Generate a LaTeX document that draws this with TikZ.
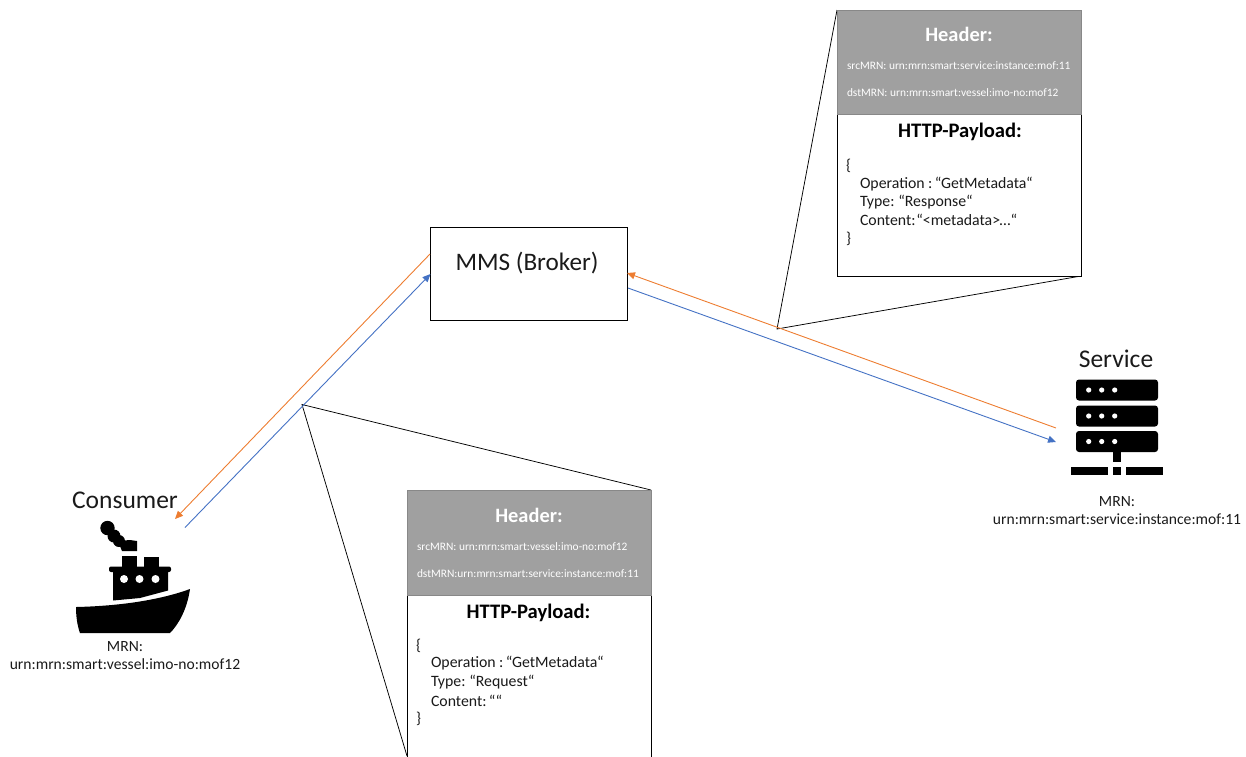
\documentclass[tikz,border=0pt]{standalone}
\usepackage{fontspec}
\setmainfont{Carlito}
\usetikzlibrary{arrows.meta}
\definecolor{hdr}{HTML}{A0A0A0}
\definecolor{arrO}{HTML}{ED7D31}
\definecolor{arrB}{HTML}{4472C4}
\definecolor{txtc}{HTML}{1A1A1A}
\newcommand{\qk}{\kern-2.4pt}
\tikzset{
  every node/.style={inner sep=0pt,outer sep=0pt,text=txtc},
  box/.style={draw=black,line width=0.8pt,fill=white},
  hdrbox/.style={draw=hdr!85!black,line width=0.8pt,fill=hdr},
  callout/.style={draw=black,line width=0.75pt},
  flowO/.style={draw=arrO,line width=0.9pt,-{Triangle[length=8pt,width=7pt]}},
  flowB/.style={draw=arrB,line width=0.9pt,-{Triangle[length=8pt,width=7pt]}},
  hdrtitle/.style={text=white,font=\fontsize{20.4}{22}\selectfont\bfseries,anchor=center},
  hdrline/.style={text=white,font=\fontsize{11.4}{13}\selectfont,anchor=west},
  paytitle/.style={text=black,font=\fontsize{20.6}{22}\selectfont\bfseries,anchor=center},
  payline/.style={text=txtc,font=\fontsize{15.8}{18}\selectfont,anchor=base west},
  label/.style={font=\fontsize{25.5}{28}\selectfont,anchor=center},
  mrn/.style={font=\fontsize{15.6}{18}\selectfont,anchor=center,align=center},
}
\begin{document}
\begin{tikzpicture}[x=1pt,y=-1pt]
\useasboundingbox (0,0) rectangle (1246,756);
% callout wedges
\coordinate (tipR) at (777,329);
\coordinate (tipL) at (302,404.5);
\coordinate (tipRa) at (837,10);
\coordinate (tipRb) at (1081,276);
\coordinate (tipLa) at (651,490);
\coordinate (tipLb) at (407,756);
\draw[callout] (tipRa) -- (tipR) -- (tipRb);
\draw[callout] (tipLa) -- (tipL) -- (tipLb);
% Broker
\node[box,minimum width=197pt,minimum height=93pt] (mms) at (528.5,273.5) {};
\node[font=\fontsize{25.2}{28}\selectfont] (mmst) at (527,263) {MMS (Broker)};
% top message
\node[box,minimum width=244pt,minimum height=163pt,anchor=north west] (pay1) at (837.5,113.5) {};
\node[hdrbox,minimum width=244pt,minimum height=104pt,anchor=north west] (hdr1) at (837.5,10) {};
\node[hdrtitle] (h1) at (959,34) {Header:};
\node[hdrline] (h1a) at (847,66) {srcMRN: urn:mrn:smart:service:instance:mof:11};
\node[hdrline] (h1b) at (847,93) {dstMRN: urn:mrn:smart:vessel:imo-no:mof12};
\node[paytitle] (p1) at (960,131.5) {HTTP-Payload:};
\node[payline] (p1a) at (846,170) {\{};
\node[payline] (p1b) at (860,188) {Operation\kern3.5pt:\qk{} “GetMetadata“};
\node[payline] (p1c) at (860,206.5) {Type:\kern-1pt{} “Response“};
\node[payline] (p1d) at (860,225.5) {Content:\kern-4pt{} “<metadata>\kern-4pt{} …“};
\node[payline] (p1e) at (846,243) {\}};
% bottom message
\node[box,minimum width=244pt,minimum height=162pt,anchor=north west] (pay2) at (407,595) {};
\node[hdrbox,minimum width=244pt,minimum height=105pt,anchor=north west] (hdr2) at (407,490.5) {};
\node[hdrtitle] (h2) at (529,515) {Header:};
\node[hdrline] (h2a) at (417,547) {srcMRN: urn:mrn:smart:vessel:imo-no:mof12};
\node[hdrline] (h2b) at (417,574) {dstMRN:urn:mrn:smart:service:instance:mof:11};
\node[paytitle] (p2) at (528.5,612.5) {HTTP-Payload:};
\node[payline] (p2a) at (416,650) {\{};
\node[payline] (p2b) at (431,667.7) {Operation\kern3.5pt:\qk{} “GetMetadata“};
\node[payline] (p2c) at (431,686.7) {Type:\kern-1pt{} “Request“};
\node[payline] (p2d) at (431,706) {Content:\qk{} ““};
\node[payline] (p2e) at (416,723.5) {\}};
% Service
\node[label] (svc) at (1116,359) {Service};
\node[mrn] (svcm) at (1117,511) {MRN:\\urn:mrn:smart:service:instance:mof:11};
\foreach \yy in {379.5,405.5,431}{
  \fill[black,rounded corners=3pt] (1076,\yy) rectangle (1158,\yy+21);
  \foreach \xx in {1088.7,1101.7,1114.7}{\fill[white] (\xx,\yy+10.5) circle (2.6);}
}
\fill[black] (1113,452) rectangle (1121,462);
\fill[black] (1071,467) rectangle (1108,475);
\fill[black] (1113,467) rectangle (1121,475);
\fill[black] (1126,467) rectangle (1163,475);
\coordinate (svcO) at (1056,428);
\coordinate (svcB) at (1056,442);
% Consumer
\node[label] (con) at (125,500) {Consumer};
\node[mrn] (conm) at (125,656) {MRN:\\urn:mrn:smart:vessel:imo-no:mof12};
\fill[black] (107.5,528) circle (7.2);
\fill[black] (114,536) circle (6.5);
\fill[black] (119,541) circle (6);
\fill[black] (118,541) -- (130,540) -- (137,541) -- (137,551) -- (122,551) -- cycle;
\fill[black] (122,556) rectangle (137,568);
\fill[black] (144,557) rectangle (159,568);
\fill[black,rounded corners=2pt] (109,566.5) rectangle (171,572);
\fill[black] (113,570) -- (168,570) -- (168,590.5) -- (140,598) -- (113,600.5) -- cycle;
\foreach \xx in {124,139.5,155.5}{\fill[white] (\xx,579) circle (4);}
\fill[black] (76,607) .. controls (120,606) and (160,600) .. (190,589) .. controls (187,610) and (178,625) .. (170,633) -- (80,633) .. controls (77,625) and (76,615) .. (76,607) -- cycle;
\coordinate (conO) at (175,519);
\coordinate (conB) at (185,527.5);
% flows
\coordinate (mmsOl) at (430,254);
\coordinate (mmsBl) at (430.5,274);
\coordinate (mmsOr) at (627,273);
\coordinate (mmsBr) at (628,288);
\draw[flowO] (mmsOl) -- (conO);
\draw[flowB] (conB) -- (mmsBl);
\draw[flowO] (svcO) -- (mmsOr);
\draw[flowB] (mmsBr) -- (svcB);
\end{tikzpicture}
\end{document}
